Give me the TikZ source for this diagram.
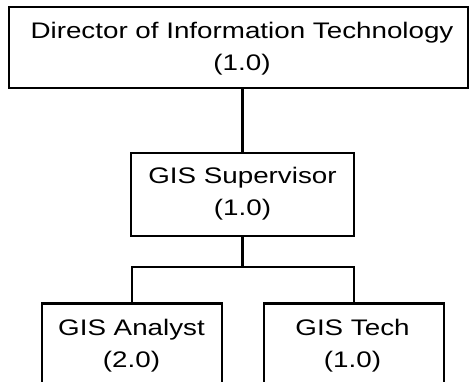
\documentclass[tikz,border=0pt]{standalone}
\usepackage{fontspec}
\setmainfont{Liberation Sans}[FakeStretch=1.234]
\begin{document}
\begin{tikzpicture}[x=1pt,y=-1pt,
  box/.style={draw=black,line width=2.8pt,rectangle,inner sep=0pt},
  lbl/.style={align=center,inner sep=0pt,font=\fontsize{22.5}{32}\selectfont},
  conn/.style={draw=black,line width=2.8pt}]
\useasboundingbox (0,0) rectangle (470,381);
\clip (0,0) rectangle (470,381);
\node[box,minimum width=459pt,minimum height=81pt] (dir) at (238.5,47.5) {};
\node[lbl] (dirt) at (242,48.7) {Director of Information Technology\\(1.0)};
\node[box,minimum width=223pt,minimum height=83pt] (sup) at (242.5,194.5) {};
\node[lbl] (supt) at (242.5,193.5) {GIS Supervisor\\(1.0)};
\node[box,minimum width=180pt,minimum height=120pt,anchor=north] (an) at (132,302) {};
\node[lbl] (ant) at (131.5,346) {GIS Analyst\\(2.0)};
\node[box,minimum width=180pt,minimum height=120pt,anchor=north] (te) at (354,302) {};
\node[lbl] (tet) at (352.5,346) {GIS Tech\\(1.0)};
\coordinate (bus) at (242.5,267);
\draw[conn] (sup.north) -- (sup.north |- dir.south);
\draw[conn] (sup.south) -- (bus);
\draw[conn] (an.north) |- (bus) -| (te.north);
\end{tikzpicture}
\end{document}
